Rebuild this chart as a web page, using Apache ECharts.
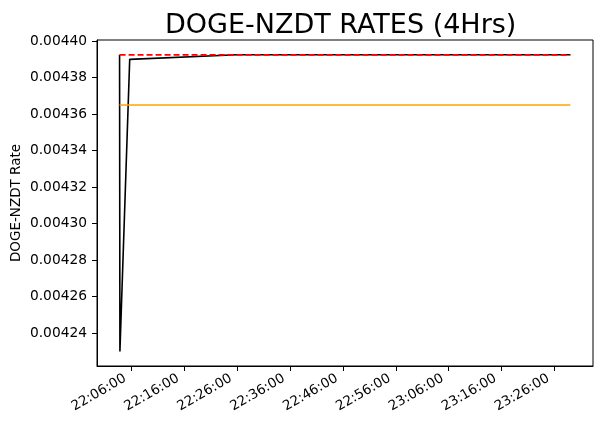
<!DOCTYPE html>
<html>
<head>
<meta charset="utf-8">
<script src="https://cdn.jsdelivr.net/npm/echarts@6/dist/echarts.min.js"></script>
<style>
html,body{margin:0;padding:0;background:#fff;}
#chart{width:605px;height:429px;}
</style>
</head>
<body>
<div id="chart"></div>
<script>
// ---- data ----
const times = ['22:03:47','22:03:51','22:05:42','22:26:00','22:46:00','23:06:00','23:29:00'];
const rates = [0.0043925,0.0042300,0.0043900,0.0043925,0.0043925,0.0043925,0.0043925];
const lastRateTimes = ['22:03:47','23:29:00'];
const lastRateValues = [0.0043925,0.0043925];
const avgRateTimes = ['22:03:47','23:29:00'];
const avgRateValues = [0.004365,0.004365];
const xTickLabels = ['22:06:00','22:16:00','22:26:00','22:36:00','22:46:00','22:56:00','23:06:00','23:16:00','23:26:00'];
const yTickLabels = [0.00424,0.00426,0.00428,0.00430,0.00432,0.00434,0.00436,0.00438,0.00440];
const xRange = ['21:59:31','23:33:17'];
const yRange = [0.004222,0.0044006];

function toMs(t){
  const p = t.split(':').map(Number);
  return Date.UTC(2024,0,1,p[0],p[1],p[2]);
}
function pad(n){return (n<10?'0':'')+n;}
function fmtTime(v){
  const d = new Date(v);
  return pad(d.getUTCHours())+':'+pad(d.getUTCMinutes())+':'+pad(d.getUTCSeconds());
}
function pairs(ts, vs){ return ts.map((t,i)=>[toMs(t), vs[i]]); }

const font = 'DejaVu Sans';
const chart = echarts.init(document.getElementById('chart'));
chart.setOption({
  animation:false,
  backgroundColor:'#ffffff',
  title:{
    text:'DOGE-NZDT RATES (4Hrs)',
    left:160, top:7,
    textStyle:{fontFamily:font,fontSize:27,fontWeight:'normal',color:'#000'}
  },
  grid:{left:97,right:12,top:40,bottom:63,show:true,borderColor:'#000',borderWidth:1,backgroundColor:'transparent',containLabel:false,outerBoundsMode:'none'},
  xAxis:{
    type:'value',
    min:toMs(xRange[0]), max:toMs(xRange[1]),
    axisLine:{show:true,lineStyle:{color:'#000',width:1}},
    axisTick:{show:true,length:5,lineStyle:{color:'#000'},customValues:xTickLabels.map(toMs)},
    axisLabel:{
      customValues:xTickLabels.map(toMs),
      rotate:30, margin:8, padding:[0,7,0,0],
      fontFamily:font,fontSize:13.5,color:'#000',
      formatter:v=>fmtTime(v)
    },
    splitLine:{show:false}
  },
  yAxis:{
    type:'value',
    min:yRange[0], max:yRange[1],
    name:'DOGE-NZDT Rate',
    nameLocation:'middle', nameGap:74, nameMoveOverlap:false,
    nameTextStyle:{fontFamily:font,fontSize:13.5,color:'#000'},
    axisLine:{show:true,lineStyle:{color:'#000',width:1}},
    axisTick:{show:true,length:5,lineStyle:{color:'#000'},customValues:yTickLabels},
    axisLabel:{
      customValues:yTickLabels,
      fontFamily:font,fontSize:13.8,color:'#000',margin:10,
      formatter:v=>v.toFixed(5)
    },
    splitLine:{show:false}
  },
  series:[
    {type:'line',data:pairs(times,rates),showSymbol:false,lineStyle:{color:'#000',width:1.6},z:2},
    {type:'line',data:pairs(avgRateTimes,avgRateValues),showSymbol:false,lineStyle:{color:'#ffa500',width:1.6},z:3},
    {type:'line',data:pairs(lastRateTimes,lastRateValues),showSymbol:false,lineStyle:{color:'#ff0000',width:1.8,type:[6,3]},z:4}
  ]
});
</script>
</body>
</html>
